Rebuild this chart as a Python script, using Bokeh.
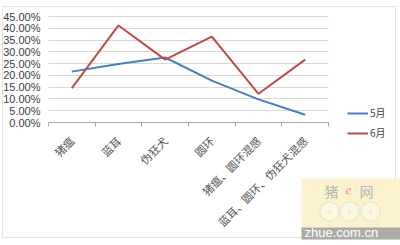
import math
import numpy as np
from bokeh.plotting import figure
from bokeh.models import (Range1d, FixedTicker, NumeralTickFormatter, Legend, LegendItem,
                          BoxAnnotation, Label, PolyAnnotation)
from bokeh.embed import file_html
from bokeh.resources import INLINE

# Disease categories and monthly shares
categories = ["猪瘟", "蓝耳", "伪狂犬", "圆环", "猪瘟、圆环混感", "蓝耳、圆环、伪狂犬混感"]
may = [0.216, 0.248, 0.276, 0.178, 0.098, 0.033]
june = [0.146, 0.412, 0.267, 0.365, 0.122, 0.267]
series_names = ["5月", "6月"]
y_ticks = [0.0, 0.05, 0.10, 0.15, 0.20, 0.25, 0.30, 0.35, 0.40, 0.45]

xs = list(range(len(categories)))
x_lo, x_hi = -0.5, len(categories) - 0.5
y_lo, y_hi = 0.0, 0.45

# canvas and plot-area geometry (pixels); the frame spans the whole canvas so that
# the legend, border and badge can sit outside the plotted area
W, H = 400, 245
PL, PR, PT, PB = 48, 328, 16, 122
xpx = (PR - PL) / (x_hi - x_lo)
ypx = (PB - PT) / (y_hi - y_lo)
x_range = Range1d(x_lo - PL / xpx, x_hi + (W - PR) / xpx)
y_range = Range1d(y_lo - (H - PB) / ypx, y_hi + PT / ypx)

p = figure(width=W, height=H, output_backend="svg", toolbar_location=None,
           x_range=x_range, y_range=y_range,
           min_border=0, min_border_left=0, min_border_right=0,
           min_border_top=0, min_border_bottom=0)
p.outline_line_color = None
p.background_fill_color = "white"
p.border_fill_color = "white"

# y axis
p.yaxis.fixed_location = x_lo
p.yaxis.bounds = (y_lo, y_hi)
p.yaxis.ticker = FixedTicker(ticks=y_ticks)
p.yaxis.formatter = NumeralTickFormatter(format="0.00%")
p.yaxis.axis_line_color = None
p.yaxis.major_tick_line_color = None
p.yaxis.minor_tick_line_color = None
p.yaxis.major_label_text_font = "Liberation Sans"
p.yaxis.major_label_text_font_size = "11px"
p.yaxis.major_label_text_color = "#404040"
p.yaxis.major_label_standoff = 2
p.ygrid.ticker = FixedTicker(ticks=y_ticks)
p.ygrid.cross_bounds = (x_lo, x_hi)
p.ygrid.grid_line_color = "#d9d9d9"
p.xgrid.grid_line_color = None

# x axis: labels at category centres, tick marks between categories
p.xaxis.fixed_location = y_lo
p.xaxis.bounds = (x_lo, x_hi)
p.xaxis.ticker = FixedTicker(ticks=xs, minor_ticks=[i - 0.5 for i in range(len(categories) + 1)])
p.xaxis.major_label_overrides = {i: c for i, c in enumerate(categories)}
p.xaxis.major_label_orientation = math.pi / 4
p.xaxis.major_tick_line_color = None
p.xaxis.minor_tick_line_color = "#a6a6a6"
p.xaxis.minor_tick_in = 0
p.xaxis.minor_tick_out = 4
p.xaxis.axis_line_color = "#a6a6a6"
p.xaxis.major_label_text_font = "Noto Sans CJK SC"
p.xaxis.major_label_text_font_size = "11px"
p.xaxis.major_label_text_color = "#555555"
p.xaxis.major_label_standoff = 10

r_may = p.line(xs, may, line_color="#4a7ebb", line_width=2)
r_june = p.line(xs, june, line_color="#be4b48", line_width=2)

legend = Legend(items=[LegendItem(label=series_names[0], renderers=[r_may]),
                       LegendItem(label=series_names[1], renderers=[r_june])],
                location=(347, 105), padding=0, margin=0, spacing=5,
                glyph_width=21, glyph_height=14, label_height=14, label_standoff=2,
                border_line_color=None, background_fill_alpha=0,
                label_text_font="Noto Sans CJK SC", label_text_font_size="10px",
                label_text_color="#404040")
p.add_layout(legend, "center")


def screen_box(left, right, top, bottom, **kw):
    """Box given in canvas pixels measured from the top-left corner."""
    return BoxAnnotation(left=left, right=right, top=H - top, bottom=H - bottom,
                         left_units="screen", right_units="screen",
                         top_units="screen", bottom_units="screen", **kw)


def screen_label(x, y, text, **kw):
    return Label(x=x, y=H - y, x_units="screen", y_units="screen", text=text, **kw)


def screen_circle(cx, cy, r, **kw):
    t = np.linspace(0, 2 * np.pi, 40)
    return PolyAnnotation(xs=list(cx + r * np.cos(t)), ys=list(H - cy + r * np.sin(t)),
                          xs_units="screen", ys_units="screen", **kw)


# outer chart border
p.add_layout(screen_box(2, 395, 6, 237, fill_alpha=0, line_color="#a0a0a0", line_width=1))

# site badge in the lower right corner
p.add_layout(screen_box(301, 400, 178, 239, fill_color="#fcf1c6", fill_alpha=0.85, line_color=None))
p.add_layout(screen_box(301, 400, 227, 239, fill_color="#a3a3a3", fill_alpha=0.9, line_color=None))
p.add_layout(screen_label(324, 200, "猪", text_font="Noto Sans CJK SC",
                          text_font_size="14px", text_color="#b5b5b5"))
p.add_layout(screen_circle(350, 187, 6.5, fill_alpha=0, line_color="#f3a9bb",
                           line_width=1, line_dash="1 2"))
p.add_layout(screen_label(345, 193, "e", text_font="Liberation Serif", text_font_style="italic",
                          text_font_size="13px", text_color="#ec8fa6"))
p.add_layout(screen_label(359, 200, "网", text_font="Noto Sans CJK SC",
                          text_font_size="14px", text_color="#b5b5b5"))
for cx in (329, 349, 370):
    p.add_layout(screen_circle(cx, 211, 9.5, fill_color="white", line_color="#c9c9c9", line_width=1.5))
    p.add_layout(screen_circle(cx, 212, 2, fill_color="#f6c6d2", line_color=None))
p.add_layout(screen_label(304, 239, "zhue.com.cn", text_font="Liberation Sans",
                          text_font_size="13px", text_color="white"))

open("out.html", "w").write(file_html(p, INLINE))
